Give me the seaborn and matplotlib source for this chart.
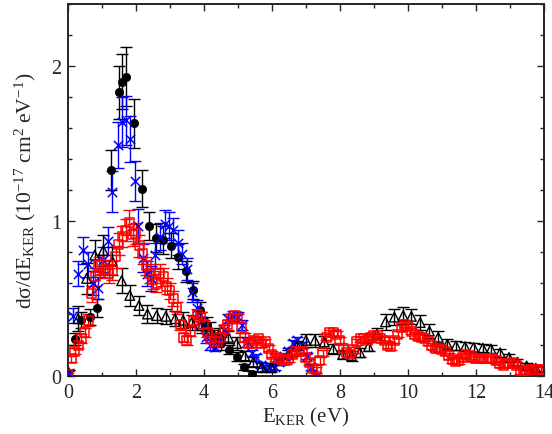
import numpy as np
import matplotlib
matplotlib.use("Agg")
import matplotlib.pyplot as plt
import seaborn as sns
from matplotlib.ticker import MultipleLocator

# ---- data ----
# filled circles (black)
circ_x = [0.00, 0.21, 0.40, 0.64, 0.87, 1.28, 1.51, 1.59, 1.72, 1.95, 2.17, 2.38, 2.59,
          2.80, 3.03, 3.23, 3.46, 3.67, 3.88, 4.10, 4.30, 4.50, 4.74, 4.96, 5.18, 5.40]
circ_y = [0.01, 0.24, 0.36, 0.38, 0.44, 1.33, 1.83, 1.90, 1.93, 1.63, 1.21, 0.97, 0.89,
          0.88, 0.84, 0.77, 0.675, 0.555, 0.425, 0.33, 0.26, 0.21, 0.17, 0.125, 0.06, 0.01]
circ_err = [0.02, 0.04, 0.05, 0.05, 0.06, 0.13, 0.17, 0.18, 0.19, 0.16, 0.12, 0.09, 0.09,
            0.09, 0.08, 0.08, 0.07, 0.06, 0.05, 0.05, 0.04, 0.04, 0.03, 0.03, 0.02, 0.02]

# crosses (blue)
cross_x = [0.03, 0.16, 0.30, 0.45, 0.60, 0.75, 0.89, 1.04, 1.19, 1.31, 1.46, 1.58, 1.70,
           1.82, 1.97, 2.07, 2.20, 2.32, 2.45, 2.56, 2.70, 2.85, 2.98, 3.10, 3.24, 3.36,
           3.49, 3.64, 3.79, 3.92, 4.05, 4.18, 4.32, 4.45, 4.58, 4.72, 4.86, 5.00, 5.13,
           5.27, 5.40, 5.54, 5.67, 5.81, 5.94, 6.08, 6.21, 6.35, 6.48, 6.62, 6.75, 6.89,
           7.02, 7.16, 7.29]
cross_y = [0.02, 0.39, 0.66, 0.81, 0.72, 0.60, 0.57, 0.75, 0.87, 1.19, 1.49, 1.64, 1.65,
           1.53, 1.26, 0.97, 0.76, 0.66, 0.63, 0.78, 0.90, 0.98, 0.97, 0.94, 0.86, 0.79,
           0.69, 0.54, 0.44, 0.36, 0.25, 0.20, 0.19, 0.23, 0.30, 0.37, 0.39, 0.38, 0.33,
           0.22, 0.15, 0.12, 0.07, 0.05, 0.05, 0.06, 0.09, 0.13, 0.16, 0.21, 0.23, 0.20,
           0.13, 0.06, 0.00]
cross_err = [0.02, 0.05, 0.08, 0.09, 0.08, 0.08, 0.07, 0.08, 0.09, 0.13, 0.15, 0.16, 0.16,
             0.15, 0.13, 0.11, 0.09, 0.08, 0.08, 0.08, 0.09, 0.09, 0.09, 0.08, 0.08, 0.07,
             0.07, 0.06, 0.05, 0.05, 0.04, 0.03, 0.03, 0.03, 0.03, 0.03, 0.03, 0.03, 0.03,
             0.03, 0.02, 0.02, 0.02, 0.02, 0.02, 0.02, 0.02, 0.02, 0.02, 0.02, 0.02, 0.02,
             0.02, 0.02, 0.02]

# open squares (red)
sq_x = [0.0, 0.1, 0.2, 0.3, 0.4, 0.5, 0.6, 0.7, 0.8, 0.9,
        1.0, 1.1, 1.2, 1.3, 1.4, 1.5, 1.6, 1.7, 1.8, 1.9,
        2.0, 2.1, 2.2, 2.3, 2.4, 2.5, 2.6, 2.7, 2.8, 2.9,
        3.0, 3.1, 3.2, 3.3, 3.4, 3.5, 3.6, 3.7, 3.8, 3.9,
        4.0, 4.1, 4.2, 4.3, 4.4, 4.5, 4.6, 4.7, 4.8, 4.9,
        5.0, 5.1, 5.2, 5.3, 5.4, 5.5, 5.6, 5.7, 5.8, 5.9,
        6.0, 6.1, 6.2, 6.3, 6.4, 6.5, 6.6, 6.7, 6.8, 6.9,
        7.0, 7.1, 7.2, 7.3, 7.4, 7.5, 7.6, 7.7, 7.8, 7.9,
        8.0, 8.1, 8.2, 8.3, 8.4, 8.5, 8.6, 8.7, 8.8, 8.9,
        9.0, 9.1, 9.2, 9.3, 9.4, 9.5, 9.6, 9.7, 9.8, 9.9,
        10.0, 10.1, 10.2, 10.3, 10.4, 10.5, 10.6, 10.7, 10.8, 10.9,
        11.0, 11.1, 11.2, 11.3, 11.4, 11.5, 11.6, 11.7, 11.8, 11.9,
        12.0, 12.1, 12.2, 12.3, 12.4, 12.5, 12.6, 12.7, 12.8, 12.9,
        13.0, 13.1, 13.2, 13.3, 13.4, 13.5, 13.6, 13.7, 13.8, 13.9]
sq_y = [0.01, 0.11, 0.16, 0.20, 0.24, 0.28, 0.36, 0.53, 0.64, 0.71,
        0.72, 0.69, 0.66, 0.68, 0.77, 0.85, 0.90, 0.94, 0.99, 0.91,
        0.92, 0.84, 0.79, 0.71, 0.66, 0.62, 0.60, 0.66, 0.64, 0.58,
        0.55, 0.50, 0.44, 0.33, 0.25, 0.23, 0.29, 0.36, 0.40, 0.38,
        0.33, 0.28, 0.24, 0.22, 0.22, 0.25, 0.30, 0.33, 0.37, 0.39,
        0.37, 0.31, 0.25, 0.21, 0.21, 0.23, 0.24, 0.21, 0.22, 0.18,
        0.14, 0.12, 0.11, 0.10, 0.10, 0.11, 0.14, 0.16, 0.16, 0.16,
        0.12, 0.09, 0.05, 0.04, 0.10, 0.15, 0.25, 0.28, 0.28, 0.27,
        0.23, 0.18, 0.15, 0.14, 0.17, 0.22, 0.24, 0.24, 0.23, 0.25,
        0.26, 0.26, 0.24, 0.23, 0.20, 0.19, 0.23, 0.27, 0.31, 0.335,
        0.32, 0.29, 0.265, 0.255, 0.25, 0.245, 0.22, 0.195, 0.18, 0.175,
        0.17, 0.155, 0.13, 0.105, 0.095, 0.10, 0.12, 0.14, 0.13, 0.12,
        0.11, 0.11, 0.11, 0.11, 0.11, 0.11, 0.10, 0.08, 0.07, 0.08,
        0.08, 0.09, 0.07, 0.035, 0.03, 0.035, 0.04, 0.04, 0.04, 0.045]
sq_err = [0.01, 0.02, 0.02, 0.02, 0.03, 0.03, 0.04, 0.05, 0.06, 0.06,
          0.06, 0.06, 0.06, 0.06, 0.07, 0.07, 0.07, 0.07, 0.08, 0.07,
          0.07, 0.07, 0.07, 0.06, 0.06, 0.06, 0.06, 0.06, 0.06, 0.05,
          0.05, 0.05, 0.04, 0.03, 0.03, 0.03, 0.03, 0.03, 0.03, 0.03,
          0.03, 0.03, 0.03, 0.03, 0.03, 0.03, 0.03, 0.03, 0.03, 0.03,
          0.03, 0.03, 0.03, 0.02, 0.02, 0.02, 0.02, 0.02, 0.02, 0.02,
          0.02, 0.02, 0.02, 0.02, 0.02, 0.02, 0.02, 0.02, 0.02, 0.02,
          0.02, 0.02, 0.02, 0.02, 0.02, 0.02, 0.02, 0.02, 0.02, 0.02,
          0.02, 0.02, 0.02, 0.02, 0.02, 0.02, 0.02, 0.02, 0.02, 0.02,
          0.02, 0.02, 0.02, 0.02, 0.02, 0.02, 0.02, 0.02, 0.02, 0.02,
          0.02, 0.02, 0.02, 0.02, 0.02, 0.02, 0.02, 0.02, 0.02, 0.02,
          0.02, 0.02, 0.02, 0.02, 0.02, 0.02, 0.02, 0.02, 0.02, 0.02,
          0.02, 0.02, 0.02, 0.02, 0.02, 0.02, 0.02, 0.02, 0.02, 0.02,
          0.02, 0.02, 0.02, 0.02, 0.02, 0.02, 0.02, 0.02, 0.02, 0.02]

# open triangles (black)
tri_x = [0.03, 0.30, 0.55, 0.79, 1.04, 1.31, 1.58, 1.82, 2.09, 2.34, 2.61, 2.88, 3.15,
         3.39, 3.64, 3.93, 4.18, 4.45, 4.72, 4.96, 5.20, 5.45, 5.70, 5.98, 6.24, 6.48,
         6.74, 7.00, 7.26, 7.54, 7.80, 8.08, 8.34, 8.59, 8.84, 9.09, 9.34, 9.60, 9.86,
         10.10, 10.36, 10.63, 10.89, 11.16, 11.41, 11.68, 11.93, 12.20, 12.44, 12.71,
         12.97, 13.22, 13.49, 13.76]
tri_y = [0.02, 0.37, 0.63, 0.78, 0.81, 0.74, 0.615, 0.52, 0.455, 0.40, 0.39, 0.385, 0.37,
         0.36, 0.345, 0.325, 0.30, 0.27, 0.25, 0.21, 0.13, 0.09, 0.055, 0.055, 0.10, 0.14,
         0.195, 0.23, 0.23, 0.22, 0.175, 0.14, 0.13, 0.15, 0.19, 0.27, 0.35, 0.38, 0.39,
         0.385, 0.345, 0.29, 0.25, 0.205, 0.195, 0.19, 0.185, 0.18, 0.175, 0.15,
         0.12, 0.09, 0.065, 0.05]
tri_err = [0.02, 0.08, 0.10, 0.10, 0.10, 0.09, 0.08, 0.07, 0.06, 0.06, 0.05, 0.05, 0.05,
           0.05, 0.05, 0.05, 0.05, 0.04, 0.04, 0.04, 0.03, 0.03, 0.03, 0.03, 0.03, 0.03,
           0.03, 0.04, 0.04, 0.04, 0.03, 0.03, 0.03, 0.03, 0.03, 0.04, 0.05, 0.05, 0.055,
           0.05, 0.05, 0.045, 0.04, 0.035, 0.03, 0.03, 0.03, 0.025, 0.025, 0.025,
           0.02, 0.02, 0.02, 0.02]

# ---- style ----
sns.set_style("ticks")
plt.rcParams['font.family'] = ['Liberation Serif', 'DejaVu Serif']
plt.rcParams['mathtext.fontset'] = 'custom'
plt.rcParams['mathtext.rm'] = 'Liberation Serif'
plt.rcParams['mathtext.it'] = 'Liberation Serif:italic'

fig = plt.figure(figsize=(5.52, 4.35), dpi=100)
ax = fig.add_axes([0.123, 0.1333, 0.8625, 0.855])

ebkw = dict(fmt='none', elinewidth=1.0, capsize=4.5, capthick=1.0, zorder=2)

# black filled circles
ax.errorbar(circ_x, circ_y, yerr=circ_err, ecolor='black', **ebkw)
sns.scatterplot(x=circ_x, y=circ_y, ax=ax, marker='o', color='black', s=36,
                edgecolor='black', linewidth=0.5, zorder=3)

# blue crosses
ax.errorbar(cross_x, cross_y, yerr=cross_err, ecolor='blue', **ebkw)
sns.scatterplot(x=cross_x, y=cross_y, ax=ax, marker='x', color='blue', s=45,
                linewidth=1.1, zorder=3)

# black open triangles
ax.errorbar(tri_x, tri_y, yerr=tri_err, ecolor='black', **ebkw)
sns.scatterplot(x=tri_x, y=tri_y, ax=ax, marker='^', facecolor='none',
                edgecolor='black', s=48, linewidth=1.0, zorder=3)

# red open squares
ax.errorbar(sq_x, sq_y, yerr=sq_err, ecolor='red', **ebkw)
sns.scatterplot(x=sq_x, y=sq_y, ax=ax, marker='s', facecolor='none',
                edgecolor='red', s=42, linewidth=1.1, zorder=4)

ax.set_xlim(0, 14)
ax.set_ylim(0, 2.4)
ax.xaxis.set_major_locator(MultipleLocator(2))
ax.xaxis.set_minor_locator(MultipleLocator(1))
ax.yaxis.set_major_locator(MultipleLocator(1))
ax.yaxis.set_minor_locator(MultipleLocator(0.2))
ax.tick_params(which='both', direction='in', top=True, right=True,
               labelsize=14.5, width=1.0, pad=5)
ax.tick_params(which='major', length=5)
ax.tick_params(which='minor', length=3)
for s in ax.spines.values():
    s.set_linewidth(1.4)

ax.set_xlabel(r'E$_\mathregular{KER}$ (eV)', fontsize=15, labelpad=2)
ax.set_ylabel(r'd$\mathregular{\sigma}$/dE$_\mathregular{KER}$ (10$^\mathregular{-17}$ cm$^\mathregular{2}$ eV$^\mathregular{-1}$)',
              fontsize=15.5, labelpad=9)

fig.savefig('out.png', dpi=100)
